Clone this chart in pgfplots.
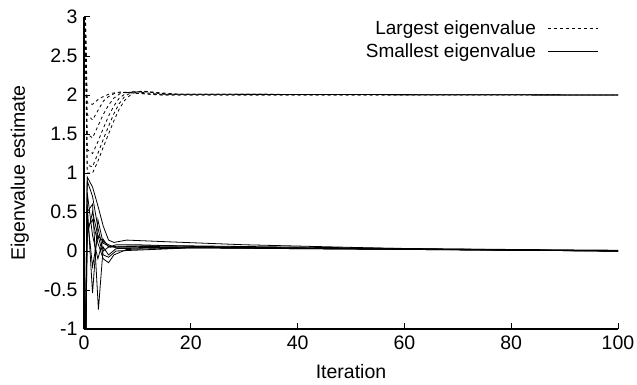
\documentclass[border=0pt]{standalone}
\usepackage{pgfplots}
\pgfplotsset{compat=1.18}
\usepackage{fontspec}
\setmainfont{Liberation Sans}
\begin{document}
\begin{tikzpicture}[x=1pt,y=1pt]
\begin{axis}[
  scale only axis,
  width=534pt, height=312pt,
  xmin=0, xmax=100, ymin=-1, ymax=3,
  axis x line=bottom, axis y line=left,
  axis line style={-, line width=1.4pt},
  xtick={0,20,40,60,80,100},
  ytick={-1,-0.5,0,0.5,1,1.5,2,2.5,3},
  yticklabels={-1,-0.5,0,0.5,1,1.5,2,2.5,3},
  tick align=inside,
  major tick length=6pt,
  tick style={line width=1pt, black},
  /pgf/number format/assume math mode=true,
  every tick label/.append style={font=\fontsize{19.5}{21}\selectfont},
  yticklabel style={xshift=-3pt},
  xticklabel style={yshift=-3pt},
  label style={font=\fontsize{19.5}{21}\selectfont},
  xlabel={Iteration}, ylabel={Eigenvalue estimate},
  xlabel style={yshift=-8pt},
  ylabel style={yshift=8pt},
  legend plot pos=right,
  legend cell align=right,
  legend style={at={(0.968,1.0)}, anchor=north east, draw=none, fill=none,
    font=\fontsize{19}{21}\selectfont, row sep=3pt, inner sep=2pt},
  legend image code/.code={\path (0pt,0pt); \draw[#1] (10pt,0pt) -- (60pt,0pt);},
  every axis plot/.append style={line width=0.8pt, black},
]
\addlegendimage{black, line width=0.8pt, dash pattern=on 3pt off 3pt}
\addlegendentry{Largest eigenvalue}
\addlegendimage{black, line width=0.8pt}
\addlegendentry{Smallest eigenvalue}

% Largest eigenvalue estimates
\addplot[forget plot, dash pattern=on 3pt off 3pt] coordinates {(0,4)(0.6,1.9)(1.6,1.88)(2.6,1.94)(3.6,1.98)(5,2.02)(7,2.04)(10,2.02)(15,2.0)(100,2.0)};
\addplot[forget plot, dash pattern=on 3pt off 3pt] coordinates {(0,4)(0.6,1.75)(1.6,1.68)(2.6,1.8)(3.6,1.92)(4.6,1.98)(6,2.03)(9,2.03)(14,2.0)(100,2.0)};
\addplot[forget plot, dash pattern=on 3pt off 3pt] coordinates {(0,4)(0.6,1.5)(1.6,1.45)(2.6,1.6)(3.6,1.75)(4.6,1.87)(5.6,1.96)(7,2.03)(10,2.04)(14,2.01)(100,2.0)};
\addplot[forget plot, dash pattern=on 3pt off 3pt] coordinates {(0,4)(0.6,1.3)(1.6,1.25)(2.6,1.4)(3.6,1.57)(4.6,1.73)(5.6,1.86)(6.6,1.96)(8,2.03)(11,2.05)(15,2.01)(100,2.0)};
\addplot[forget plot, dash pattern=on 3pt off 3pt] coordinates {(0,4)(0.6,1.1)(1.6,1.08)(2.6,1.25)(3.6,1.43)(4.6,1.6)(5.6,1.76)(6.6,1.89)(7.6,1.98)(9,2.04)(12,2.04)(16,2.01)(100,2.0)};
\addplot[forget plot, dash pattern=on 3pt off 3pt] coordinates {(0,4)(0.6,1.0)(1.6,1.0)(2.6,1.15)(3.6,1.33)(4.6,1.5)(5.6,1.67)(6.6,1.82)(7.6,1.93)(9,2.02)(11,2.05)(14,2.03)(18,2.01)(100,2.0)};

% Smallest eigenvalue estimates
\addplot[forget plot] coordinates {(0,-3)(0.6,0.95)(1.6,0.82)(2.6,0.58)(3.6,0.32)(4.6,0.14)(5.6,0.11)(8,0.14)(15,0.12)(30,0.08)(60,0.03)(100,0.01)};
\addplot[forget plot] coordinates {(0,-3)(0.6,0.75)(1.6,0.2)(2.6,-0.1)(3.6,0.15)(4.6,0.05)(6,0.08)(10,0.08)(20,0.06)(50,0.03)(100,0.0)};
\addplot[forget plot] coordinates {(0,-3)(0.6,0.6)(1.6,-0.54)(2.6,0.4)(3.6,0.1)(5,0.05)(10,0.06)(30,0.04)(100,0.0)};
\addplot[forget plot] coordinates {(0,-3)(0.6,0.5)(1.6,0.6)(2.7,-0.75)(3.6,0.05)(4.6,-0.05)(6,0.03)(20,0.05)(100,0.0)};
\addplot[forget plot] coordinates {(0,-3)(0.6,0.3)(1.6,0.4)(2.6,0.1)(3.6,-0.1)(4.6,-0.15)(5.6,-0.05)(8,0.02)(20,0.04)(100,0.0)};
\addplot[forget plot] coordinates {(0,-3)(0.6,0.9)(1.6,0.7)(2.6,0.3)(3.6,0.0)(4.6,0.05)(6,0.06)(15,0.07)(100,0.0)};
\addplot[forget plot] coordinates {(0,-3)(0.6,0.45)(1.6,-0.2)(2.6,0.2)(3.6,0.12)(4.6,0.08)(6,0.04)(20,0.05)(100,0.0)};
\addplot[forget plot] coordinates {(0,-3)(0.6,0.2)(1.6,0.5)(2.6,0.2)(3.6,-0.05)(4.6,-0.08)(6,0.0)(20,0.04)(100,0.0)};
\end{axis}
\pgfresetboundingbox
\path (-84pt,-55pt) rectangle (553pt,329pt);
\end{tikzpicture}
\end{document}
